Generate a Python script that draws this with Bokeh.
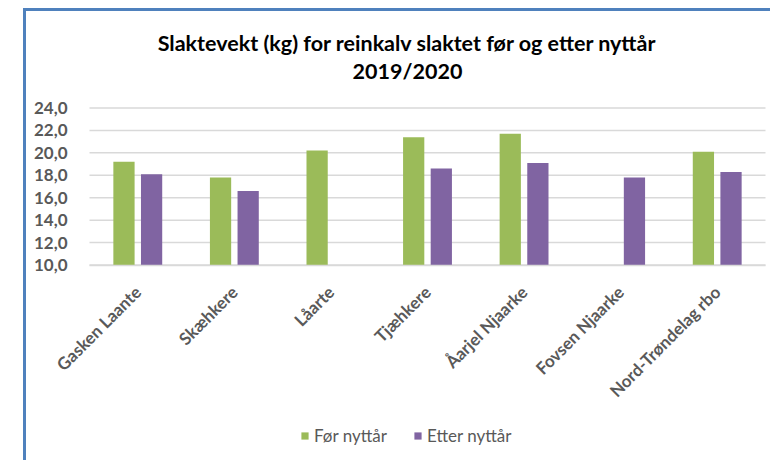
import math
from bokeh.plotting import figure
from bokeh.models import (Range1d, FixedTicker, CustomJSTickFormatter, Legend,
                          LegendItem, Label, ColumnDataSource)
from bokeh.transform import dodge
from bokeh.embed import file_html
from bokeh.resources import INLINE

# ---- data ----
categories = ["Gasken Laante", "Skæhkere", "Låarte", "Tjæhkere", "Åarjel Njaarke",
              "Fovsen Njaarke", "Nord-Trøndelag rbo"]
for_nyttar = [19.2, 17.8, 20.2, 21.4, 21.7, None, 20.1]
etter_nyttar = [18.1, 16.6, None, 18.6, 19.1, 17.8, 18.3]
y_ticks = [10, 12, 14, 16, 18, 20, 22, 24]
series_names = ["Før nyttår", "Etter nyttår"]
title_line1 = "Slaktevekt (kg) for reinkalv slaktet før og etter nyttår"
title_line2 = "2019/2020"

# ---- layout constants (pixels inside the canvas) ----
FW, FH = 744, 449
PLOT_L, PLOT_R = 63, 739
PLOT_T, PLOT_B = 96.5, 253.5
n = len(categories)
ux = (PLOT_R - PLOT_L) / n
uy = (PLOT_B - PLOT_T) / (y_ticks[-1] - y_ticks[0])

FONT = "Lato"
GREY = "#595959"
GRID = "#D9D9D9"

nan = float("nan")
src = ColumnDataSource(dict(
    xi=[i + 0.5 for i in range(n)],
    cat=categories,
    a=[nan if v is None else v for v in for_nyttar],
    b=[nan if v is None else v for v in etter_nyttar],
))

p = figure(x_range=Range1d(-PLOT_L / ux, n + (FW - PLOT_R) / ux),
           y_range=Range1d(y_ticks[0] - (FH - PLOT_B) / uy, y_ticks[-1] + PLOT_T / uy),
           frame_width=FW, frame_height=FH, min_border=0,
           output_backend="svg", toolbar_location=None, title=None)
p.styles = {"margin-left": "23px", "margin-top": "8px",
            "border-left": "3px solid #4F81BD", "border-top": "3px solid #4F81BD"}
p.outline_line_color = None
p.background_fill_color = "white"
p.border_fill_color = "white"
p.grid.visible = False

# horizontal gridlines at the tick values, spanning the category area
p.segment(x0=0, x1=n, y0=y_ticks, y1=y_ticks, line_color=GRID, line_width=1.5)

ra = p.vbar(x=dodge("xi", -0.143), top="a", bottom=y_ticks[0], width=0.22,
            source=src, fill_color="#9BBB59", line_color=None)
rb = p.vbar(x=dodge("xi", 0.143), top="b", bottom=y_ticks[0], width=0.22,
            source=src, fill_color="#8064A2", line_color=None)

# y axis
p.yaxis.fixed_location = 0
p.yaxis.ticker = FixedTicker(ticks=y_ticks)
p.yaxis.formatter = CustomJSTickFormatter(code="return tick.toFixed(1).replace('.', ',');")
p.yaxis.axis_line_color = None
p.yaxis.major_tick_line_color = None
p.yaxis.minor_tick_line_color = None
p.yaxis.major_label_text_font = FONT
p.yaxis.major_label_text_font_style = "bold"
p.yaxis.major_label_text_font_size = "17px"
p.yaxis.major_label_text_color = GREY
p.yaxis.major_label_standoff = 16

# x axis
p.xaxis.fixed_location = y_ticks[0]
p.xaxis.bounds = (0, n)
p.xaxis.ticker = FixedTicker(ticks=src.data["xi"])
p.xaxis.formatter = CustomJSTickFormatter(args=dict(cats=categories),
                                          code="const i = Math.floor(tick); return (i >= 0 && i < cats.length) ? cats[i] : '';")
p.xaxis.axis_line_color = GRID
p.xaxis.axis_line_width = 1.5
p.xaxis.major_tick_line_color = None
p.xaxis.minor_tick_line_color = None
p.xaxis.major_label_orientation = math.pi / 4
p.xaxis.major_label_text_font = FONT
p.xaxis.major_label_text_font_style = "bold"
p.xaxis.major_label_text_font_size = "17px"
p.xaxis.major_label_text_color = GREY
p.xaxis.major_label_standoff = 18

# title (two centred lines)
for txt, yy in ((title_line1, FH - 31), (title_line2, FH - 59)):
    p.add_layout(Label(x=381, y=yy, x_units="screen", y_units="screen", text=txt,
                       text_align="center", text_baseline="middle", text_font=FONT,
                       text_font_style="bold", text_font_size="21.5px",
                       text_color="black"))

legend = Legend(items=[LegendItem(label=series_names[0], renderers=[ra]),
                       LegendItem(label=series_names[1], renderers=[rb])],
                orientation="horizontal", location=(274, 14),
                border_line_color=None, background_fill_alpha=0,
                label_text_font=FONT, label_text_font_size="17px",
                label_text_color=GREY, glyph_width=9, glyph_height=9,
                spacing=26, label_standoff=5, margin=0, padding=0)
p.add_layout(legend, "center")

open("out.html", "w").write(file_html(p, INLINE))
